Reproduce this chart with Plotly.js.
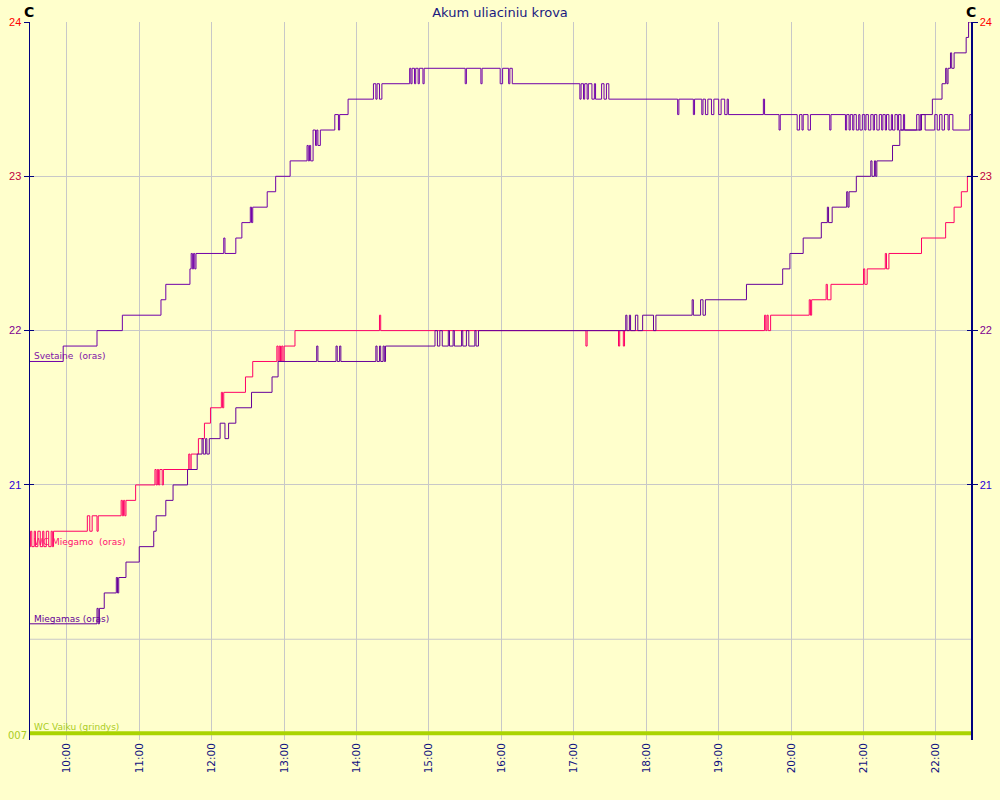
<!DOCTYPE html>
<html><head><meta charset="utf-8">
<script src="https://cdn.plot.ly/plotly-3.0.1.min.js"></script>
<style>html,body{margin:0;padding:0;background:#ffffcc;}#chart{width:1000px;height:800px;}</style>
</head><body><div id="chart"></div>
<script>
const DAY = '2024-01-01 ';

const svetaineTimes = ['09:29','09:57','10:25','10:46','11:18','11:22','11:42','11:43','11:44','11:45','11:46','11:47','12:10','12:11','12:20','12:25','12:32','12:33','12:34','12:46','12:53','13:05','13:19','13:20','13:21','13:22','13:24','13:26','13:27','13:28','13:30','13:42','13:45','13:46','13:53','14:14','14:16','14:17','14:19','14:21','14:44','14:45','14:46','14:48','14:49','14:51','14:52','14:55','14:56','15:30','15:31','15:43','15:44','15:59','16:01','16:06','16:07','16:09','17:05','17:06','17:08','17:09','17:11','17:12','17:15','17:17','17:18','17:23','17:25','17:27','17:29','18:26','18:27','18:39','18:40','18:46','18:47','18:49','18:51','18:54','18:56','19:00','19:02','19:05','19:07','19:08','19:37','19:38','19:50','19:51','20:05','20:07','20:09','20:10','20:14','20:16','20:32','20:33','20:45','20:46','20:48','20:49','20:51','20:52','20:54','20:56','20:57','20:59','21:01','21:02','21:04','21:06','21:08','21:09','21:11','21:13','21:15','21:16','21:18','21:19','21:21','21:23','21:24','21:26','21:28','21:29','21:31','21:33','21:34','21:44','21:46','21:47','21:51','21:59','22:01','22:03','22:05','22:07','22:10','22:11','22:14','22:28','22:29'];
const svetaineValues = [21.8,21.9,22.0,22.1,22.2,22.3,22.4,22.5,22.4,22.5,22.4,22.5,22.6,22.5,22.6,22.7,22.8,22.7,22.8,22.9,23.0,23.1,23.2,23.1,23.2,23.1,23.3,23.2,23.3,23.2,23.3,23.4,23.3,23.4,23.5,23.6,23.5,23.6,23.5,23.6,23.7,23.6,23.7,23.6,23.7,23.6,23.7,23.6,23.7,23.6,23.7,23.6,23.7,23.6,23.7,23.6,23.7,23.6,23.5,23.6,23.5,23.6,23.5,23.6,23.5,23.6,23.5,23.6,23.5,23.6,23.5,23.4,23.5,23.4,23.5,23.4,23.5,23.4,23.5,23.4,23.5,23.4,23.5,23.4,23.5,23.4,23.5,23.4,23.3,23.4,23.3,23.4,23.3,23.4,23.3,23.4,23.3,23.4,23.3,23.4,23.3,23.4,23.3,23.4,23.3,23.4,23.3,23.4,23.3,23.4,23.3,23.4,23.3,23.4,23.3,23.4,23.3,23.4,23.3,23.4,23.3,23.4,23.3,23.4,23.3,23.4,23.3,23.4,23.3,23.4,23.3,23.4,23.3,23.4,23.3,23.4,23.3,23.4,23.3,23.4,23.3,23.4,23.4];

const wcMiegamoTimes = ['09:29','09:30','09:31','09:33','09:34','09:36','09:38','09:40','09:41','09:43','09:45','09:47','09:48','09:49','10:17','10:19','10:21','10:25','10:26','10:45','10:46','10:47','10:48','10:49','10:57','11:13','11:14','11:15','11:16','11:17','11:19','11:20','11:41','11:42','11:43','11:49','11:54','11:59','12:08','12:09','12:10','12:28','12:34','12:54','12:55','12:56','12:57','12:58','12:59','13:00','13:09','14:19','14:20','17:10','17:11','17:37','17:38','17:41','17:42','19:38','19:39','19:40','19:41','19:43','20:15','20:16','20:17','20:29','20:30','20:33','21:00','21:01','21:03','21:18','21:19','21:21','21:48','22:08','22:15','22:21','22:26','22:29'];
const wcMiegamoValues = [20.6,20.7,20.6,20.7,20.6,20.7,20.6,20.7,20.6,20.7,20.6,20.7,20.6,20.7,20.8,20.7,20.8,20.7,20.8,20.9,20.8,20.9,20.8,20.9,21.0,21.1,21.0,21.1,21.0,21.1,21.0,21.1,21.2,21.1,21.2,21.3,21.4,21.5,21.6,21.5,21.6,21.7,21.8,21.9,21.8,21.9,21.8,21.9,21.8,21.9,22.0,22.1,22.0,21.9,22.0,21.9,22.0,21.9,22.0,22.1,22.0,22.1,22.0,22.1,22.2,22.1,22.2,22.3,22.2,22.3,22.4,22.3,22.4,22.5,22.4,22.5,22.6,22.7,22.8,22.9,23.0,23.0];

const miegamasTimes = ['09:29','10:25','10:26','10:27','10:31','10:41','10:42','10:43','10:49','11:00','11:12','11:14','11:22','11:28','11:40','11:48','11:52','11:53','11:55','11:56','11:58','12:07','12:11','12:14','12:20','12:33','12:50','12:55','13:27','13:28','13:43','13:44','13:46','13:47','14:16','14:17','14:19','14:20','14:22','14:23','14:24','15:05','15:07','15:09','15:11','15:16','15:17','15:20','15:21','15:27','15:28','15:31','15:33','15:38','15:39','15:41','17:43','17:44','17:46','17:47','17:51','17:53','17:57','18:06','18:08','18:38','18:39','18:45','18:47','18:49','19:23','19:53','19:59','20:10','20:25','20:30','20:31','20:34','20:46','20:47','20:48','20:54','21:06','21:07','21:09','21:10','21:11','21:24','21:30','21:48','21:57','22:05','22:08','22:09','22:10','22:12','22:13','22:15','22:25','22:27','22:29'];
const miegamasValues = [20.1,20.2,20.1,20.2,20.3,20.4,20.3,20.4,20.5,20.6,20.7,20.8,20.9,21.0,21.1,21.2,21.3,21.2,21.3,21.2,21.3,21.4,21.3,21.4,21.5,21.6,21.7,21.8,21.9,21.8,21.9,21.8,21.9,21.8,21.9,21.8,21.9,21.8,21.9,21.8,21.9,22.0,21.9,22.0,21.9,22.0,21.9,22.0,21.9,22.0,21.9,22.0,21.9,22.0,21.9,22.0,22.1,22.0,22.1,22.0,22.1,22.0,22.1,22.0,22.1,22.2,22.1,22.2,22.1,22.2,22.3,22.4,22.5,22.6,22.7,22.8,22.7,22.8,22.9,22.8,22.9,23.0,23.1,23.0,23.1,23.0,23.1,23.2,23.3,23.4,23.5,23.6,23.7,23.6,23.7,23.8,23.7,23.8,23.9,24.0,24.0];

const wcVaikuTimes = ['09:29','22:29'];
const wcVaikuValues = [19.39,19.39];

const seriesNames = ['Svetaine  (oras)','WC Miegamo  (oras)','Miegamas (oras)','WC Vaiku (grindys)'];
const hourTicks = ['10:00','11:00','12:00','13:00','14:00','15:00','16:00','17:00','18:00','19:00','20:00','21:00','22:00'];
const yTickValues = [21,22,23,24];
const yTickLabels = ['21','22','23','24'];
const yTickColors = ['#2a00d8','#800090','#c00040','#ff0000'];
const unlabeledGridValue = 20;
const floorLabel = '007';
const unitLabel = 'C';
const chartTitle = 'Akum uliaciniu krova';

const d = ts => ts.map(t => DAY + t);
const L = 30, R = 971, T = 22, B = 740;
const px = x => (x - L) / (R - L);
const py = y => (B - y) / (B - T);

const ticktext = yTickLabels.map((t, i) => '<span style="color:' + yTickColors[i] + '">' + t + '</span>');

const traces = [
  {x: d(wcVaikuTimes), y: wcVaikuValues, yaxis: 'y', mode: 'lines', line: {color: '#aad400', width: 4}, name: seriesNames[3]},
  {x: d(wcMiegamoTimes), y: wcMiegamoValues, yaxis: 'y2', mode: 'lines', line: {color: '#ff0066', width: 1, shape: 'hv'}, name: seriesNames[1]},
  {x: d(svetaineTimes), y: svetaineValues, yaxis: 'y3', mode: 'lines', line: {color: '#7000a8', width: 1, shape: 'hv'}, name: seriesNames[0]},
  {x: d(miegamasTimes), y: miegamasValues, yaxis: 'y4', mode: 'lines', line: {color: '#66009a', width: 1, shape: 'hv'}, name: seriesNames[2]}
];

const yr = [19.347, 24];
const baseY = {range: yr, tickvals: yTickValues, ticktext: ticktext, fixedrange: true, zeroline: false,
  tickfont: {family: 'Liberation Sans', size: 11}};

const layout = {
  width: 1000, height: 800,
  margin: {l: L, r: 1000 - R, t: T, b: 800 - B},
  paper_bgcolor: '#ffffcc', plot_bgcolor: '#ffffcc',
  showlegend: false,
  title: {text: chartTitle, x: 0.5, xanchor: 'center', y: 1 - 12 / 800, yanchor: 'middle',
    font: {family: 'DejaVu Sans', size: 13, color: '#1a1a80'}},
  xaxis: {type: 'date', range: [DAY + '09:29:30', DAY + '22:29:00'],
    tickvals: d(hourTicks), ticktext: hourTicks, tickangle: -90,
    tickfont: {family: 'DejaVu Sans', size: 10.5, color: '#101080'},
    showgrid: true, gridcolor: '#c8c8c8', gridwidth: 1, ticks: '', showline: false, zeroline: false},
  yaxis: Object.assign({}, baseY, {side: 'left', showgrid: true, gridcolor: '#c8c8c8',
    showline: true, linecolor: '#000080', linewidth: 1.5, ticks: 'outside', ticklen: 5, tickcolor: '#000080'}),
  yaxis2: Object.assign({}, baseY, {side: 'right', overlaying: 'y', showgrid: false,
    showline: true, linecolor: '#000080', linewidth: 1.5, ticks: 'outside', ticklen: 5, tickcolor: '#000080'}),
  yaxis3: Object.assign({}, baseY, {side: 'left', overlaying: 'y', showgrid: false, showticklabels: false,
    showline: false, ticks: 'inside', ticklen: 4, tickcolor: '#000080'}),
  yaxis4: Object.assign({}, baseY, {side: 'right', overlaying: 'y', showgrid: false, showticklabels: false,
    showline: false, ticks: 'inside', ticklen: 4, tickcolor: '#000080'}),
  shapes: [
    {type: 'line', xref: 'paper', yref: 'y', x0: 0, x1: 1, y0: unlabeledGridValue, y1: unlabeledGridValue,
      line: {color: '#c8c8c8', width: 1}, layer: 'below'}
  ],
  annotations: [
    {text: unitLabel, xref: 'paper', yref: 'paper', x: px(29), y: py(12), xanchor: 'center', yanchor: 'middle', showarrow: false,
      font: {family: 'DejaVu Sans', size: 14, color: '#000000', weight: 'bold'}},
    {text: unitLabel, xref: 'paper', yref: 'paper', x: px(971), y: py(12), xanchor: 'center', yanchor: 'middle', showarrow: false,
      font: {family: 'DejaVu Sans', size: 14, color: '#000000', weight: 'bold'}},
    {text: seriesNames[0], xref: 'paper', yref: 'paper', x: px(32), y: py(356), xanchor: 'left', yanchor: 'middle', showarrow: false,
      font: {family: 'DejaVu Sans', size: 9, color: '#8010a8'}},
    {text: seriesNames[1], xref: 'paper', yref: 'paper', x: px(32), y: py(542), xanchor: 'left', yanchor: 'middle', showarrow: false,
      font: {family: 'DejaVu Sans', size: 9, color: '#ff1070'}},
    {text: seriesNames[2], xref: 'paper', yref: 'paper', x: px(32), y: py(619), xanchor: 'left', yanchor: 'middle', showarrow: false,
      font: {family: 'DejaVu Sans', size: 9, color: '#660099'}},
    {text: seriesNames[3], xref: 'paper', yref: 'paper', x: px(32), y: py(727), xanchor: 'left', yanchor: 'middle', showarrow: false,
      font: {family: 'DejaVu Sans', size: 9, color: '#aacc22'}},
    {text: floorLabel, xref: 'paper', yref: 'paper', x: px(29), y: py(735), xanchor: 'right', yanchor: 'middle', showarrow: false,
      font: {family: 'DejaVu Sans', size: 10, color: '#aacc22'}}
  ]
};

Plotly.newPlot('chart', traces, layout, {staticPlot: true, displayModeBar: false});
</script></body></html>
